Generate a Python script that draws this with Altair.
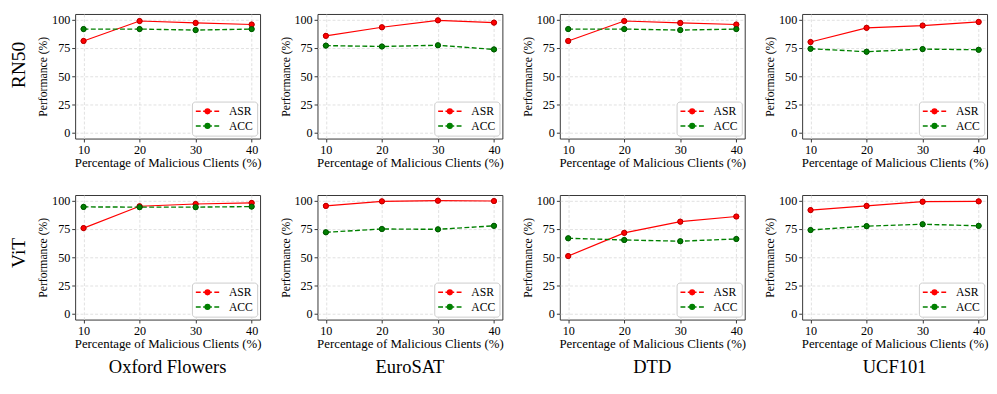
import altair as alt
import pandas as pd

FONT = "Liberation Serif"

clients = [10, 20, 30, 40]
models = ["RN50", "ViT"]
datasets = ["Oxford Flowers", "EuroSAT", "DTD", "UCF101"]
series_names = ["ASR", "ACC"]
series_colors = ["#ff0000", "#008000"]
edge_colors = ["#a00000", "#004a00"]
y_ticks = [0, 25, 50, 75, 100]
x_title = "Percentage of Malicious Clients (%)"
y_title = "Performance (%)"

# RN50 row
rn50_oxford_asr = [81.2, 98.8, 97.1, 95.7]
rn50_oxford_acc = [91.7, 91.7, 90.8, 91.7]
rn50_eurosat_asr = [85.7, 93.3, 99.4, 97.4]
rn50_eurosat_acc = [77.1, 76.3, 77.4, 73.7]
rn50_dtd_asr = [81.2, 98.8, 97.1, 95.7]
rn50_dtd_acc = [91.7, 91.7, 90.8, 91.7]
rn50_ucf_asr = [80.3, 92.8, 94.8, 98.0]
rn50_ucf_acc = [74.3, 71.7, 74.0, 73.4]

# ViT row
vit_oxford_asr = [75.8, 95.1, 97.1, 98.0]
vit_oxford_acc = [94.5, 94.3, 94.3, 94.8]
vit_eurosat_asr = [95.4, 99.4, 100.0, 99.7]
vit_eurosat_acc = [72.1, 75.0, 74.7, 77.8]
vit_dtd_asr = [51.1, 71.6, 81.5, 86.0]
vit_dtd_acc = [66.8, 65.3, 64.2, 66.2]
vit_ucf_asr = [91.7, 95.4, 99.1, 99.4]
vit_ucf_acc = [74.1, 77.5, 79.2, 77.8]

rn50_data = [(rn50_oxford_asr, rn50_oxford_acc), (rn50_eurosat_asr, rn50_eurosat_acc),
             (rn50_dtd_asr, rn50_dtd_acc), (rn50_ucf_asr, rn50_ucf_acc)]
vit_data = [(vit_oxford_asr, vit_oxford_acc), (vit_eurosat_asr, vit_eurosat_acc),
            (vit_dtd_asr, vit_dtd_acc), (vit_ucf_asr, vit_ucf_acc)]

# legend symbol: dashed line with a circle marker in the middle
LEGEND_PATH = ("M-1.5,0H-0.25M0.375,0H2.625M3.25,0H4.5"
               "M2.1,0A0.6,0.6,0,1,1,0.9,0A0.6,0.6,0,1,1,2.1,0Z")

PANEL_W = 190
PANEL_H = 128
Y_DOMAIN = [-5, 105]
ROW_LABEL_Y = [52, 59]


def make_panel(asr, acc, col_title=None, row_title=None, row_label_y=58):
    df = pd.DataFrame({
        "clients": clients + clients,
        "value": asr + acc,
        "series": [series_names[0]] * len(clients) + [series_names[1]] * len(clients),
    })
    base = alt.Chart(df)
    x = alt.X("clients:Q",
              scale=alt.Scale(domain=[8.5, 41.5], nice=False, zero=False),
              axis=alt.Axis(values=clients, format="d", title=x_title,
                            labelFont=FONT, titleFont=FONT, titleFontSize=13.2,
                            labelFontSize=12.5, titlePadding=1))
    y = alt.Y("value:Q",
              scale=alt.Scale(domain=Y_DOMAIN, nice=False, zero=False),
              axis=alt.Axis(values=y_ticks, title=y_title, orient="left",
                            labelFont=FONT, titleFont=FONT, titleFontSize=12,
                            labelFontSize=12.5, titlePadding=2))
    asr_data = base.transform_filter(alt.datum.series == series_names[0])
    acc_data = base.transform_filter(alt.datum.series == series_names[1])
    asr_line = asr_data.mark_line(color=series_colors[0], strokeWidth=1.2).encode(x=x, y=y)
    acc_line = acc_data.mark_line(color=series_colors[1], strokeWidth=1.4,
                                  strokeDash=[5, 2.5]).encode(x=x, y=y)
    leg = alt.Legend(title=None, orient="bottom-right", offset=3, padding=4, rowPadding=3,
                     strokeColor="#cccccc", fillColor="white", cornerRadius=3,
                     labelFont=FONT, labelFontSize=12, labelColor="black", labelOffset=22,
                     symbolType=LEGEND_PATH, symbolSize=64, symbolStrokeWidth=1.5)
    cscale = alt.Scale(domain=series_names, range=series_colors)
    pts = base.mark_point(filled=True, size=28, strokeWidth=0.8, opacity=1).encode(
        x=x, y=y,
        fill=alt.Fill("series:N", scale=cscale, legend=leg),
        stroke=alt.Stroke("series:N", scale=cscale, legend=leg),
    )
    # markers with darker edges drawn on top
    asr_pts = asr_data.mark_point(filled=True, size=28, strokeWidth=0.8, opacity=1,
                                  fill=series_colors[0], stroke=edge_colors[0]).encode(x=x, y=y)
    acc_pts = acc_data.mark_point(filled=True, size=28, strokeWidth=0.8, opacity=1,
                                  fill=series_colors[1], stroke=edge_colors[1]).encode(x=x, y=y)
    layer = alt.layer(asr_line, acc_line, pts, asr_pts, acc_pts)
    if row_title is not None:
        # an extra, label-less left axis that carries the row name (RN50 / ViT)
        row_axis = base.mark_point(opacity=0).encode(
            x=x,
            y=alt.Y("value:Q", scale=alt.Scale(domain=Y_DOMAIN, nice=False, zero=False),
                    axis=alt.Axis(title=row_title, orient="left", labels=False, ticks=False,
                                  grid=False, domain=False, titleFont=FONT, titleFontSize=20,
                                  titleFontWeight="normal", titleColor="black",
                                  titleX=-48, titleY=row_label_y, titlePadding=0)),
        )
        layer = alt.layer(layer, row_axis).resolve_scale(y="independent")
    layer = layer.properties(width=PANEL_W, height=PANEL_H)
    if col_title is not None:
        layer = layer.properties(title=alt.TitleParams(
            text=col_title, orient="bottom", font=FONT, fontSize=19, fontWeight="normal",
            color="black", offset=9, anchor="middle", frame="group"))
    return layer


def resolve(c):
    return c.resolve_scale(fill="independent", stroke="independent").resolve_legend(
        fill="independent", stroke="independent")


row1 = resolve(alt.hconcat(
    *[make_panel(a, b, row_title=models[0] if i == 0 else None, row_label_y=ROW_LABEL_Y[0])
      for i, (a, b) in enumerate(rn50_data)], spacing=17))
row2 = resolve(alt.hconcat(
    *[make_panel(a, b, col_title=t, row_title=models[1] if i == 0 else None,
                 row_label_y=ROW_LABEL_Y[1])
      for i, ((a, b), t) in enumerate(zip(vit_data, datasets))], spacing=17))

chart = resolve(alt.vconcat(row1, row2, spacing=25)).properties(
    padding={"left": 0, "top": 0, "right": 0, "bottom": 0},
).configure_view(
    stroke="#333333", strokeWidth=1
).configure_axis(
    labelFont=FONT, labelFontSize=12.5, labelColor="black",
    titleFont=FONT, titleFontWeight="normal", titleColor="black",
    domain=False, grid=True, gridColor="#d9d9d9", gridDash=[3, 2], gridWidth=0.8,
    tickColor="#333333", tickSize=3.5, tickWidth=1, labelPadding=2, titlePadding=2,
)

chart.save("out.html", embed_options={"renderer": "svg", "actions": False})
